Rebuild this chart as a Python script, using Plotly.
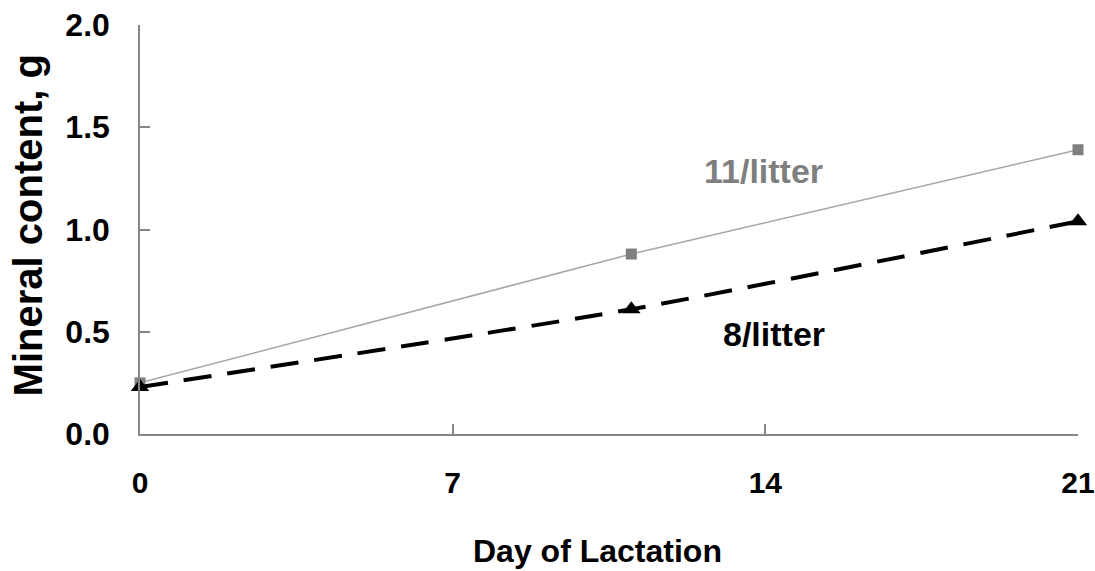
import plotly.graph_objects as go

days = [0, 11, 21]
litter11 = [0.25, 0.88, 1.39]
litter8 = [0.23, 0.61, 1.04]
x_ticks = [0, 7, 14, 21]
y_ticks = [0.0, 0.5, 1.0, 1.5, 2.0]

FONT = "Liberation Sans, Arial, sans-serif"

fig = go.Figure()
fig.add_trace(go.Scatter(
    x=days, y=litter11, mode="lines+markers", name="11/litter",
    line=dict(color="#a6a6a6", width=1.5),
    marker=dict(symbol="square", size=11, color="#7f7f7f"),
    cliponaxis=False,
))
fig.add_trace(go.Scatter(
    x=days, y=litter8, mode="lines+markers", name="8/litter",
    line=dict(color="#000000", width=4, dash="28px,16px", shape="spline", smoothing=0.6),
    marker=dict(symbol="triangle-up", size=16, color="#000000"),
    cliponaxis=False,
))

fig.add_annotation(x=13.95, y=1.285, text="11/litter", showarrow=False,
                   font=dict(family=FONT, size=34, color="#7f7f7f", weight="bold"))
fig.add_annotation(x=14.2, y=0.49, text="8/litter", showarrow=False,
                   font=dict(family=FONT, size=34, color="#000000", weight="bold"))

# axis titles
fig.add_annotation(xref="paper", yref="paper", x=0.488, y=-0.286, text="Day of Lactation",
                   showarrow=False, xanchor="center", yanchor="middle",
                   font=dict(family=FONT, size=32, color="black", weight="bold"))
fig.add_annotation(xref="paper", yref="paper", x=-0.119, y=0.511, text="Mineral content, g",
                   showarrow=False, xanchor="center", yanchor="middle", textangle=-90,
                   font=dict(family=FONT, size=40, color="black", weight="bold"))

fig.update_layout(
    width=1095, height=571,
    margin=dict(l=140, r=17, t=25, b=137, autoexpand=False),
    paper_bgcolor="white", plot_bgcolor="white",
    showlegend=False,
    font=dict(family=FONT, size=22, color="black"),
)
fig.update_xaxes(
    range=[0, 21], tickvals=x_ticks, ticktext=[str(v) for v in x_ticks],
    showgrid=False, zeroline=False, showline=True, linecolor="#868686", linewidth=1.5,
    ticks="inside", ticklen=10, tickcolor="#868686", tickwidth=1.5,
    tickfont=dict(family=FONT, size=30, color="black", weight="bold"),
    ticklabelstandoff=21, automargin=False, ticklabeloverflow="allow",
)
fig.update_yaxes(
    range=[0, 2.0], tickvals=y_ticks, ticktext=[f"{v:.1f}" for v in y_ticks],
    showgrid=False, zeroline=False, showline=True, linecolor="#868686", linewidth=1.5,
    ticks="inside", ticklen=10, tickcolor="#868686", tickwidth=1.5,
    tickfont=dict(family=FONT, size=32, color="black", weight="bold"),
    ticklabelstandoff=22, automargin=False, ticklabeloverflow="allow",
)

fig.write_html("out.html", config={"displayModeBar": False},
               post_script="document.body.style.margin='0';document.body.style.overflow='hidden';")
